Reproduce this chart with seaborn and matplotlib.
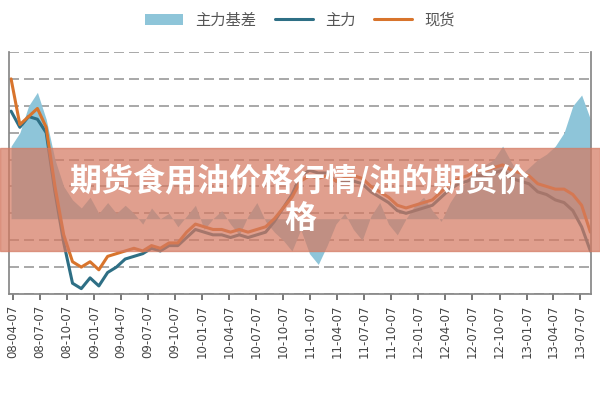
import matplotlib
matplotlib.use("Agg")
import matplotlib.pyplot as plt
import seaborn as sns
import pandas as pd
import numpy as np
from matplotlib.patches import Rectangle

sns.set_theme(style="white")
plt.rcParams['font.family'] = ['Noto Sans CJK SC', 'DejaVu Sans']

dates = pd.to_datetime(np.linspace(pd.Timestamp("2008-04-01").value,
                                   pd.Timestamp("2013-08-10").value, 67))
spot = [8.0,6.3,6.6,6.9,6.2,4.0,2.2,1.2,1.0,1.2,0.9,1.4,1.5,1.6,1.7,1.6,1.8,1.7,1.9,1.9,
        2.3,2.6,2.5,2.4,2.4,2.3,2.4,2.3,2.4,2.5,2.8,3.2,3.6,4.2,4.4,4.3,4.4,4.2,4.3,4.4,
        4.3,4.0,3.8,3.6,3.3,3.2,3.3,3.4,3.5,3.8,4.1,4.3,4.4,4.6,4.6,4.7,4.8,4.6,4.5,4.4,
        4.1,4.0,3.9,3.9,3.7,3.3,2.3]
main = [6.8,6.2,6.6,6.5,6.0,3.8,1.9,0.4,0.2,0.6,0.3,0.8,1.0,1.3,1.4,1.5,1.7,1.6,1.8,1.8,
        2.1,2.4,2.3,2.2,2.2,2.1,2.2,2.1,2.2,2.3,2.7,3.2,3.7,4.4,4.6,4.5,4.5,4.2,4.2,4.2,
        4.1,3.8,3.6,3.4,3.1,3.0,3.1,3.2,3.3,3.6,3.9,4.1,4.2,4.4,4.4,4.5,4.6,4.3,4.2,4.1,
        3.8,3.7,3.5,3.4,3.1,2.5,1.6]
basis = [5.5,6.0,7.0,7.5,6.5,5.0,4.0,3.5,3.2,3.6,3.0,3.4,3.0,3.3,3.0,2.6,3.2,2.8,3.0,2.5,
         2.9,3.3,2.4,2.8,3.1,2.6,2.2,2.9,3.4,2.7,2.3,2.0,1.6,2.4,1.5,1.1,1.8,2.6,3.0,2.4,
         2.0,2.9,3.4,2.6,2.2,2.8,3.3,3.6,3.1,2.7,3.4,3.9,4.2,4.6,4.8,5.0,5.5,4.9,4.4,4.7,
         5.0,5.2,5.5,6.0,7.0,7.4,6.5]
base_level = 2.8
tick_labels = ["08-04-07","08-07-07","08-10-07","09-01-07","09-04-07","09-07-07","09-10-07",
               "10-01-07","10-04-07","10-07-07","10-10-07","11-01-07","11-04-07","11-07-07",
               "11-10-07","12-01-07","12-04-07","12-07-07","12-10-07","13-01-07","13-04-07",
               "13-07-07"]
tick_dates = pd.to_datetime(tick_labels, format="%y-%m-%d")

df = pd.DataFrame({"date": dates, "主力": main, "现货": spot, "基差": basis})

fig = plt.figure(figsize=(6, 4), dpi=100)
ax = fig.add_axes([0.015, 0.265, 0.97, 0.605])
ax.fill_between(df["date"], base_level, df["基差"], color="#8ec5d9", lw=0, label="主力基差")
sns.lineplot(data=df, x="date", y="主力", ax=ax, color="#2e6f85", lw=2.2, label="主力")
sns.lineplot(data=df, x="date", y="现货", ax=ax, color="#d8742c", lw=2.2, label="现货")
ax.set_ylim(0, 9)
ax.set_yticks(range(10))
ax.set_yticklabels([])
ax.tick_params(axis="y", length=0)
ax.grid(axis="y", ls=(0, (6, 3)), color="#999999", lw=1.2)
ax.set_xlim(pd.Timestamp("2008-03-25"), pd.Timestamp("2013-08-12"))
ax.set_xticks(tick_dates)
ax.set_xticklabels(tick_labels, rotation=90, fontsize=8.5, color="#444444", family="DejaVu Sans")
ax.tick_params(axis="x", length=4, color="#666666", bottom=True)
ax.set_xlabel(""); ax.set_ylabel("")
ax.spines["top"].set_visible(False)
for s in ["left", "bottom", "right"]:
    ax.spines[s].set_color("#888888")
leg = ax.legend(loc="lower center", bbox_to_anchor=(0.5, 1.04), ncol=3, frameon=False,
                fontsize=11, handlelength=2.5, columnspacing=1.2)
for t in leg.get_texts():
    t.set_color("#555555")

fig.patches.append(Rectangle((0, 0.372), 1, 0.258, transform=fig.transFigure,
                             color="#d47a62", alpha=0.72, zorder=5))
fig.text(0.5, 0.5, "期货食用油价格行情/油的期货价\n格", ha="center", va="center",
         color="white", fontsize=23, fontweight="bold", zorder=6, linespacing=1.2)
fig.savefig("out.png", dpi=100)
